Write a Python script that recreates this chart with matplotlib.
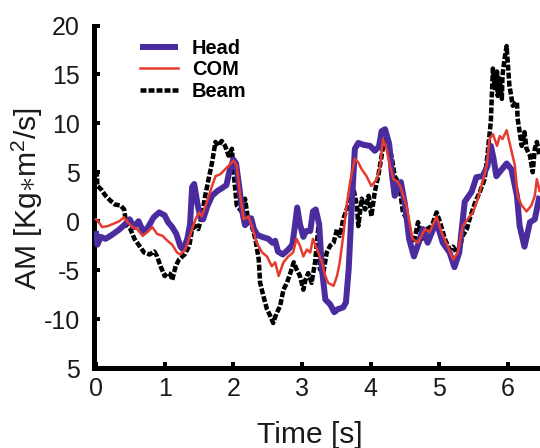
import matplotlib
matplotlib.use("Agg")
import matplotlib.pyplot as plt

# Angular momentum traces (time in s, AM in Kg*m^2/s)
head_t = [0.00, 0.02, 0.07, 0.14, 0.23, 0.33, 0.41, 0.49, 0.55, 0.62, 0.69, 0.76, 0.84, 0.92,
          1.00, 1.05, 1.11, 1.17, 1.23, 1.27, 1.33, 1.37, 1.40, 1.43, 1.48, 1.52, 1.56, 1.62,
          1.69, 1.77, 1.84, 1.90, 1.94, 2.00, 2.04, 2.09, 2.13, 2.17, 2.23, 2.26, 2.30, 2.35,
          2.42, 2.51, 2.57, 2.61, 2.65, 2.72, 2.80, 2.86, 2.90, 2.93, 2.97, 3.02, 3.06, 3.12,
          3.16, 3.20, 3.25, 3.29, 3.34, 3.41, 3.47, 3.52, 3.60, 3.64, 3.68, 3.73, 3.77, 3.82,
          3.90, 3.99, 4.06, 4.12, 4.16, 4.21, 4.27, 4.31, 4.35, 4.40, 4.44, 4.50, 4.56, 4.63,
          4.69, 4.76, 4.83, 4.91, 4.96, 5.05, 5.15, 5.22, 5.29, 5.37, 5.47, 5.54, 5.63, 5.70,
          5.75, 5.79, 5.83, 5.91, 5.98, 6.05, 6.13, 6.17, 6.24, 6.32, 6.39, 6.46]
head_am = [-1.0, -2.4, -1.6, -1.8, -1.4, -0.9, -0.4, 0.2, -0.6, 0.0, -1.1, -0.6, 0.4, 0.9,
           0.6, -0.1, -0.6, -1.3, -2.6, -2.9, -1.8, -0.3, 3.5, 3.8, 1.7, 0.4, 0.2, 1.5,
           2.6, 3.1, 3.4, 3.7, 5.0, 6.3, 5.9, 3.3, 1.0, -0.4, 0.0, 0.3, -0.8, -1.4,
           -1.6, -1.8, -2.2, -2.0, -3.1, -3.4, -2.9, -2.4, -0.3, 1.4, -0.3, -1.6, -1.0, -1.0,
           1.0, 1.2, -0.3, -4.9, -8.0, -8.5, -9.3, -9.0, -8.8, -8.3, -4.9, 2.3, 7.4, 8.0,
           7.8, 7.7, 7.2, 7.6, 9.2, 9.4, 7.9, 4.8, 2.6, 3.5, 4.0, 1.7, -1.8, -3.6,
           -2.4, -0.8, -2.2, -0.8, -0.1, -2.2, -3.2, -4.7, -3.2, 2.0, 3.0, 4.5, 4.6, 5.6,
           7.7, 6.4, 4.6, 5.3, 5.9, 5.3, 2.6, -0.5, -2.6, -0.1, 0.2, 2.6]

com_t = [0.00, 0.02, 0.09, 0.17, 0.24, 0.34, 0.41, 0.46, 0.53, 0.60, 0.68, 0.75, 0.82, 0.89,
         0.97, 1.04, 1.11, 1.18, 1.23, 1.30, 1.37, 1.40, 1.45, 1.50, 1.54, 1.62, 1.69, 1.74,
         1.81, 1.88, 1.95, 2.00, 2.05, 2.10, 2.15, 2.22, 2.27, 2.34, 2.42, 2.49, 2.56, 2.61,
         2.66, 2.73, 2.80, 2.87, 2.92, 2.97, 3.02, 3.07, 3.12, 3.16, 3.22, 3.29, 3.34, 3.38,
         3.46, 3.51, 3.55, 3.60, 3.65, 3.70, 3.77, 3.82, 3.87, 3.94, 4.01, 4.09, 4.14, 4.18,
         4.23, 4.28, 4.33, 4.38, 4.43, 4.52, 4.61, 4.69, 4.79, 4.86, 4.96, 5.03, 5.10, 5.20,
         5.27, 5.34, 5.41, 5.49, 5.56, 5.63, 5.69, 5.73, 5.78, 5.84, 5.88, 5.92, 5.98, 6.02,
         6.10, 6.14, 6.20, 6.27, 6.34, 6.39, 6.42, 6.46]
com_am = [0.2, 0.1, -0.6, -0.5, -0.3, 0.0, 0.4, -0.1, -0.6, -0.8, -1.5, -1.1, -0.6, -1.3,
          -1.5, -2.0, -2.4, -3.2, -3.4, -2.9, -1.5, -0.8, 0.2, 0.9, 0.5, 2.1, 3.6, 4.6,
          4.8, 5.3, 5.8, 6.2, 5.7, 2.6, 0.2, 0.5, -0.5, -2.2, -3.2, -3.6, -4.6, -4.2,
          -5.6, -4.2, -3.6, -3.2, -1.8, -2.5, -3.6, -2.9, -3.2, -1.8, -2.9, -4.2, -5.6, -6.3,
          -6.6, -5.6, -4.2, -1.5, 1.6, 4.0, 6.4, 6.0, 5.3, 4.6, 3.6, 4.3, 5.7, 8.4,
          7.4, 5.7, 4.3, 4.1, 3.6, 1.6, -1.8, -2.2, -0.8, -1.1, 0.5, -1.1, -2.2, -3.9,
          -3.2, -0.5, 0.2, 0.9, 2.3, 4.0, 5.7, 8.4, 8.9, 7.7, 8.7, 8.4, 9.3, 8.1,
          5.7, 2.6, 1.6, 1.0, 1.6, 2.6, 4.3, 3.1]

beam_t = [0.00, 0.01, 0.02, 0.07, 0.14, 0.21, 0.28, 0.36, 0.41, 0.43, 0.46, 0.50, 0.56, 0.63,
          0.70, 0.78, 0.85, 0.89, 0.94, 1.00, 1.04, 1.08, 1.11, 1.16, 1.21, 1.29, 1.36, 1.40,
          1.45, 1.49, 1.54, 1.59, 1.64, 1.69, 1.74, 1.78, 1.83, 1.88, 1.93, 1.98, 2.00, 2.05,
          2.13, 2.17, 2.22, 2.27, 2.32, 2.37, 2.39, 2.44, 2.49, 2.54, 2.58, 2.63, 2.68, 2.73,
          2.78, 2.83, 2.88, 2.92, 2.97, 3.02, 3.05, 3.09, 3.14, 3.19, 3.24, 3.26, 3.31, 3.36,
          3.41, 3.46, 3.51, 3.55, 3.60, 3.65, 3.70, 3.75, 3.80, 3.82, 3.87, 3.92, 3.97, 4.01,
          4.06, 4.11, 4.16, 4.21, 4.26, 4.31, 4.35, 4.40, 4.43, 4.47, 4.53, 4.60, 4.64, 4.69,
          4.75, 4.82, 4.89, 4.96, 5.01, 5.08, 5.15, 5.20, 5.25, 5.30, 5.34, 5.40, 5.44, 5.52,
          5.59, 5.66, 5.70, 5.75, 5.78, 5.81, 5.84, 5.85, 5.88, 5.91, 5.92, 5.95, 5.98, 6.00,
          6.02, 6.07, 6.13, 6.14, 6.20, 6.24, 6.27, 6.32, 6.36, 6.39, 6.42, 6.46]
beam_am = [4.6, 5.3, 3.6, 3.3, 2.6, 2.1, 1.7, 1.6, 1.2, 0.2, -0.5, -0.8, -1.8, -2.5,
           -3.2, -3.4, -3.1, -3.6, -4.6, -5.6, -5.3, -5.4, -6.0, -4.6, -3.9, -3.4, -2.5, -0.8,
           -0.5, -0.8, 0.5, 2.6, 4.3, 6.0, 8.1, 7.7, 8.2, 7.7, 6.7, 7.4, 5.3, 1.6,
           0.9, 2.3, -0.1, -0.5, -1.8, -3.9, -6.3, -7.7, -9.0, -9.7, -10.4, -9.4, -8.7, -7.0,
           -6.3, -5.3, -4.2, -4.9, -5.6, -7.0, -6.0, -5.3, -6.3, -4.2, -0.5, -4.9, -5.3, -3.2,
           -2.5, -2.2, -0.8, -1.5, 0.2, 1.2, 2.3, 3.3, 1.6, -0.5, 2.3, 1.2, 2.6, 0.5,
           3.0, 4.6, 6.7, 9.1, 8.1, 6.4, 4.6, 4.0, 3.0, 0.9, 0.2, -2.2, -1.8, -0.1,
           -1.8, -0.8, -0.5, 0.9, -0.1, -1.8, -2.9, -2.6, -3.2, -2.6, -1.5, -0.8, 0.2, 1.9,
           3.0, 4.3, 6.7, 10.2, 15.6, 13.6, 15.3, 12.8, 14.6, 12.5, 14.9, 16.6, 17.9, 15.9,
           13.9, 11.8, 12.2, 10.5, 7.7, 9.1, 7.4, 6.7, 5.0, 7.4, 8.1, 6.7]

x_ticks = [0, 1, 2, 3, 4, 5, 6]
y_ticks = [-15, -10, -5, 0, 5, 10, 15, 20]
y_tick_labels = ['5', '-10', '-5', '0', '5', '10', '15', '20']

plt.rcParams['font.family'] = ['Liberation Sans', 'DejaVu Sans']
plt.rcParams['mathtext.fontset'] = 'custom'
plt.rcParams['mathtext.rm'] = 'Liberation Sans'
plt.rcParams['mathtext.it'] = 'Liberation Sans:italic'
plt.rcParams['mathtext.bf'] = 'Liberation Sans:bold'
plt.rcParams['lines.scale_dashes'] = False

DPI = 72
fig = plt.figure(figsize=(540 / DPI, 448 / DPI), dpi=DPI)
ax = fig.add_axes([94 / 540, 80 / 448, 446 / 540, 342.5 / 448])

h_beam, = ax.plot(beam_t, beam_am, color='black', lw=4.5, dashes=(6, 2),
                  label='Beam', zorder=2)
h_head, = ax.plot(head_t, head_am, color='#4B2C9F', lw=6, label='Head',
                  zorder=3, solid_joinstyle='round', solid_capstyle='butt')
h_com, = ax.plot(com_t, com_am, color='#E63B2E', lw=2.5, label='COM', zorder=4)

ax.set_xlim(-0.029, 6.466)
ax.set_ylim(-15, 20)
ax.set_xticks(x_ticks)
ax.set_yticks(y_ticks)
ax.set_yticklabels(y_tick_labels)

for side in ('top', 'right'):
    ax.spines[side].set_visible(False)
for side in ('left', 'bottom'):
    ax.spines[side].set_linewidth(5)
    ax.spines[side].set_color('black')

ax.tick_params(axis='both', direction='in', length=6, width=4, labelsize=25,
               color='black', labelcolor='#1a1a1a')
ax.tick_params(axis='y', pad=14)
ax.tick_params(axis='x', pad=9)

ax.set_xlabel('Time [s]', fontsize=30, color='#1a1a1a')
ax.xaxis.set_label_coords(0.485, -0.219)
ax.xaxis.label.set_va('baseline')

ax.set_ylabel(r'AM [Kg$\ast$m$^2$/s]', fontsize=30, color='#1a1a1a')
ax.yaxis.set_label_coords(-0.110, 0.493)

ax.legend(handles=[h_head, h_com, h_beam], labels=['Head', 'COM', 'Beam'],
          loc='upper left', bbox_to_anchor=(0.103, 0.961), frameon=False,
          prop={'weight': 'bold', 'size': 20}, handlelength=1.9,
          handletextpad=0.7, labelspacing=0.13, borderpad=0, borderaxespad=0)

fig.savefig('out.png', dpi=DPI)
